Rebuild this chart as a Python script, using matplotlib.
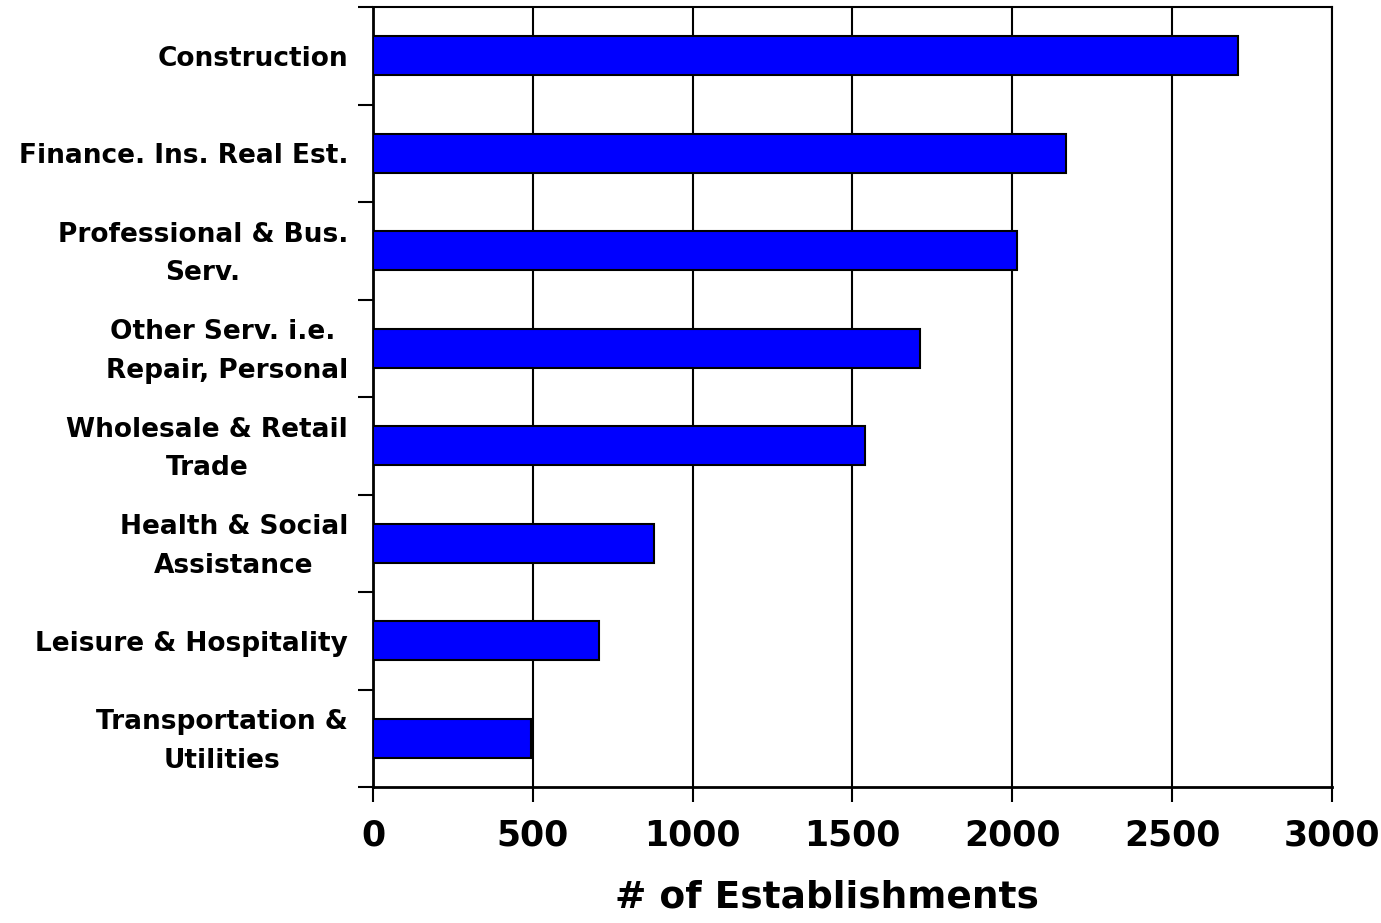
import numpy as np
import matplotlib
matplotlib.use("Agg")
import matplotlib.pyplot as plt
import matplotlib.transforms as mtransforms

categories = ["Construction", "Finance. Ins. Real Est.", "Professional & Bus.\nServ.",
              "Other Serv. i.e. \nRepair, Personal", "Wholesale & Retail\nTrade",
              "Health & Social\nAssistance", "Leisure & Hospitality",
              "Transportation &\nUtilities"]
values = [2706, 2168, 2015, 1712, 1538, 880, 708, 493]
xticks = [0, 500, 1000, 1500, 2000, 2500, 3000]

plt.rcParams['font.family'] = ['DejaVu Sans']
plt.rcParams['font.weight'] = 'bold'

fig = plt.figure(figsize=(13.81, 9.23), dpi=100)
ax = fig.add_axes([0.2701, 0.1473, 0.6944, 0.8451])

n = len(categories)
pos = np.arange(n)[::-1] + 0.5
ax.barh(pos, values, height=0.4, color='#0000FF', edgecolor='black', linewidth=1.5, zorder=3)

ax.set_xlim(0, 3000)
ax.set_ylim(0, n)
ax.set_xticks(xticks)
ax.set_xticklabels([str(t) for t in xticks], fontsize=25, fontweight='bold')
ax.xaxis.grid(True, color='black', linewidth=1.5, zorder=0)

ax.set_yticks(np.arange(n + 1))
ax.set_yticklabels([])
ax.set_yticks(pos, minor=True)
ax.set_yticklabels(categories, minor=True, fontsize=19, fontweight='bold',
                   multialignment='center', linespacing=1.62)

ax.tick_params(axis='y', which='major', length=11, width=1.5, direction='out')
ax.tick_params(axis='y', which='minor', length=0, pad=18)
ax.tick_params(axis='x', which='major', length=11, width=1.5, direction='out', pad=12)

# two-line labels sit a little high in the original
shift = mtransforms.ScaledTranslation(0, 0.06, fig.dpi_scale_trans)
for lab in ax.yaxis.get_minorticklabels():
    if '\n' in lab.get_text():
        lab.set_transform(lab.get_transform() + shift)

for s in ax.spines.values():
    s.set_linewidth(1.5)
ax.spines['left'].set_linewidth(2)
ax.spines['bottom'].set_linewidth(2)

ax.set_xlabel('# of Establishments', fontsize=27, fontweight='bold')
ax.xaxis.set_label_coords(0.4734, -0.119)

fig.savefig('out.png', dpi=100)
